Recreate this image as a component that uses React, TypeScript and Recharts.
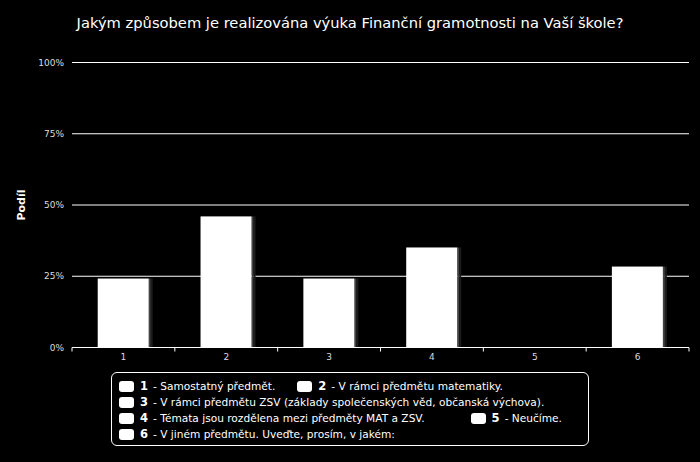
import React from "react";
import { BarChart, Bar, XAxis, YAxis, CartesianGrid } from "recharts";

const categories = ["1", "2", "3", "4", "5", "6"];
const shares = [24.2, 46.0, 24.2, 35.1, 0, 28.4];
const yTicks = [0, 25, 50, 75, 100];
const legendLabels = [
  "- Samostatný předmět.",
  "- V rámci předmětu matematiky.",
  "- V rámci předmětu ZSV (základy společenských věd, občanská výchova).",
  "- Témata jsou rozdělena mezi předměty MAT a ZSV.",
  "- Neučíme.",
  "- V jiném předmětu. Uveďte, prosím, v jakém:",
];
const legendRows = [[0, 1], [2], [3, 4], [5]];

const data = categories.map((c, i) => ({ cat: c, value: shares[i] }));

const FONT = "'DejaVu Sans', sans-serif";
const TICK_SIZE = 4;
const TICK_MARGIN = 2;

const ShadowBar = (props: any) => {
  const { x, y, width, height } = props;
  if (!height || height <= 0) return null;
  return (
    <g>
      <rect x={x + width} y={y} width={2} height={height} fill="#444" />
      <rect x={x + width + 2} y={y} width={2} height={height} fill="#1c1c1c" />
      <rect x={x} y={y} width={width} height={height} fill="#ffffff" />
    </g>
  );
};

const CatTick = (props: any) => {
  const { x, y, payload, index } = props;
  const half = payload && payload.offset ? payload.offset : 0;
  const axisY = y - TICK_SIZE - TICK_MARGIN;
  return (
    <g>
      {index === 0 && half > 0 ? (
        <line x1={x - half} x2={x - half} y1={axisY} y2={axisY + TICK_SIZE} stroke="#fff" />
      ) : null}
      {half > 0 ? (
        <line x1={x + half} x2={x + half} y1={axisY} y2={axisY + TICK_SIZE} stroke="#fff" />
      ) : null}
      <text x={x} y={y} dy="0.71em" textAnchor="middle" fill="#ddd" fontSize={9} fontFamily={FONT}>
        {payload.value}
      </text>
    </g>
  );
};

const LegendBox = () => (
  <div
    style={{
      position: "absolute",
      left: 111,
      top: 372,
      width: 478,
      height: 74,
      boxSizing: "border-box",
      border: "1px solid #fff",
      borderRadius: 6,
      padding: "5px 0 0 7px",
      fontFamily: FONT,
      fontSize: 10.6,
      color: "#fff",
    }}
  >
    {legendRows.map((row, ri) => (
      <div key={ri} style={{ display: "flex", height: 16, alignItems: "center" }}>
        {row.map((idx, k) => (
          <div
            key={idx}
            style={{
              display: "flex",
              alignItems: "center",
              marginRight: ri === 2 && k === 0 ? 46 : 22,
              whiteSpace: "nowrap",
            }}
          >
            <span
              style={{
                display: "inline-block",
                width: 15,
                height: 11,
                background: "#fff",
                borderRadius: 3,
                marginRight: 6,
              }}
            />
            <span style={{ fontWeight: "bold", fontSize: 11.5, marginRight: 5 }}>{categories[idx]}</span>
            <span>{legendLabels[idx]}</span>
          </div>
        ))}
      </div>
    ))}
  </div>
);

export default function App() {
  return (
    <div style={{ position: "absolute", left: 0, top: 0, width: 700, height: 462, background: "#000" }}>
      <div
        style={{
          position: "absolute",
          left: 0,
          top: 14,
          width: 700,
          textAlign: "center",
          fontFamily: FONT,
          fontSize: 14.7,
          color: "#fff",
        }}
      >
        Jakým způsobem je realizována výuka Finanční gramotnosti na Vaší škole?
      </div>
      <BarChart
        width={700}
        height={462}
        data={data}
        margin={{ top: 62.5, right: 11, bottom: 94.5, left: 22 }}
        barCategoryGap="25%"
      >
        <CartesianGrid vertical={false} stroke="#ffffff" strokeWidth={1} />
        <XAxis
          dataKey="cat"
          height={20}
          axisLine={{ stroke: "#fff" }}
          tickLine={false}
          tickSize={TICK_SIZE}
          tickMargin={TICK_MARGIN}
          tick={<CatTick />}
          interval={0}
        />
        <YAxis
          width={50}
          domain={[0, 100]}
          ticks={yTicks}
          tickFormatter={(v: number) => `${v}%`}
          axisLine={false}
          tickLine={false}
          tick={{ fill: "#ddd", fontSize: 9, fontFamily: FONT }}
          label={{
            value: "Podíl",
            angle: -90,
            position: "insideLeft",
            offset: -1,
            style: { fill: "#fff", fontWeight: "bold", fontSize: 11, fontFamily: FONT, textAnchor: "middle" },
          }}
        />
        <Bar dataKey="value" isAnimationActive={false} fill="#fff" shape={<ShadowBar />} />
      </BarChart>
      <LegendBox />
    </div>
  );
}
